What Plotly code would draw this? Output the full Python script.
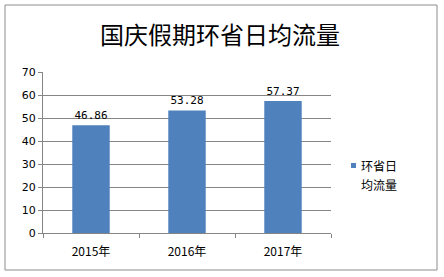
import plotly.graph_objects as go

categories = ["2015年", "2016年", "2017年"]
values = [46.86, 53.28, 57.37]
value_labels = ["46.86", "53.28", "57.37"]
series_name_lines = ["环省日", "均流量"]
title_text = "国庆假期环省日均流量"

L, R, T, B = 43, 331, 72, 233
W, H = 444, 277
pw, ph = R - L, B - T
bar_color = "#4F81BD"

fig = go.Figure()
fig.add_trace(go.Bar(
    x=categories, y=values, name="".join(series_name_lines),
    marker=dict(color=bar_color, line=dict(width=0)),
    width=0.39,
    text=value_labels, textposition="outside", cliponaxis=False,
    textfont=dict(size=11, color="#000000", family="DejaVu Sans Mono, monospace"),
    showlegend=False,
))

fig.update_layout(
    width=W, height=H,
    margin=dict(l=L, r=W - R, t=T, b=H - B, pad=0),
    paper_bgcolor="white", plot_bgcolor="white",
    font=dict(family="Noto Sans CJK SC, sans-serif", color="#000000"),
    title=dict(text=title_text, x=220 / W, xanchor="center", xref="container",
               y=1 - 36 / H, yanchor="middle",
               font=dict(size=24, family="Noto Sans CJK SC", color="#000000")),
    showlegend=False,
)
fig.update_xaxes(
    showline=True, linecolor="#868686", linewidth=1,
    ticks="outside", tickson="boundaries", ticklen=4, tickcolor="#868686",
    tickfont=dict(size=12, family="Noto Sans CJK SC"),
    ticklabelstandoff=8,
    showgrid=False,
)
fig.update_yaxes(
    range=[0, 70], dtick=10,
    showline=True, linecolor="#868686", linewidth=1,
    ticks="outside", ticklen=4, tickcolor="#868686",
    showgrid=True, gridcolor="#868686", gridwidth=1,
    zeroline=False,
    tickfont=dict(size=11, family="DejaVu Sans"),
)
# outer chart border
fig.add_shape(type="rect", xref="paper", yref="paper",
              x0=(5 - L) / pw, x1=(437 - L) / pw,
              y0=(B - 270) / ph, y1=(B - 5) / ph,
              line=dict(color="#8c8c8c", width=1), fillcolor="rgba(0,0,0,0)", layer="below")
# legend (marker + two text lines)
fig.add_shape(type="rect", xref="paper", yref="paper",
              x0=(351 - L) / pw, x1=(356 - L) / pw,
              y0=(B - 168) / ph, y1=(B - 163) / ph,
              line=dict(width=0), fillcolor=bar_color)
for i, line in enumerate(series_name_lines):
    fig.add_annotation(text=line, xref="paper", yref="paper",
                       x=(360 - L) / pw, y=(B - (165 + 19 * i)) / ph,
                       xanchor="left", yanchor="middle",
                       showarrow=False, borderpad=0,
                       font=dict(size=12, family="Noto Sans CJK SC", color="#000000"))
fig.write_html("out.html")
